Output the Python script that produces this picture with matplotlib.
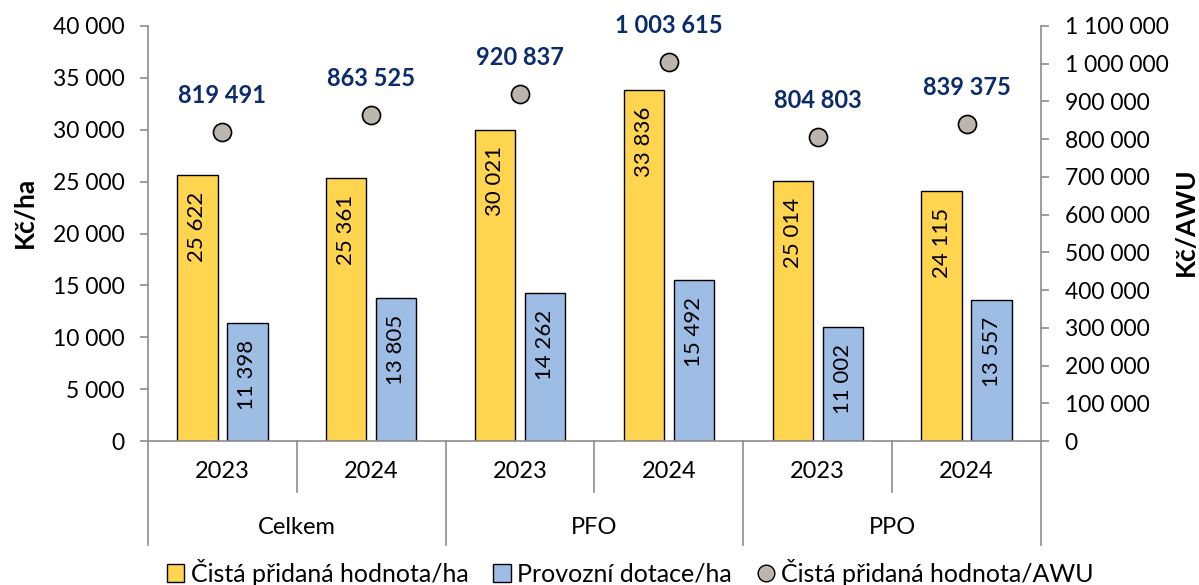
import matplotlib
matplotlib.use("Agg")
import matplotlib.pyplot as plt
from matplotlib.ticker import FuncFormatter, MultipleLocator
import matplotlib.transforms as mtransforms
from matplotlib.lines import Line2D
from matplotlib.patches import Patch

plt.rcParams['font.family'] = ['Lato', 'DejaVu Sans']

groups = ["Celkem", "PFO", "PPO"]
years = ["2023", "2024", "2023", "2024", "2023", "2024"]
cpp_ha = [25622, 25361, 30021, 33836, 25014, 24115]
dotace_ha = [11398, 13805, 14262, 15492, 11002, 13557]
cpp_awu = [819491, 863525, 920837, 1003615, 804803, 839375]

c_yellow = "#FFD44F"
c_blue = "#9DBDE5"
c_grey = "#BCB5AE"
c_navy = "#0B2C6B"
c_axis = "#8C8C8C"

def fmt(v, pos=None):
    return f"{int(round(v)):,}".replace(",", " ")

fig = plt.figure(figsize=(11.99, 5.85), dpi=100)
ax = fig.add_axes([148/1199, 1-441/585, (1041-148)/1199, (441-26)/585])
ax2 = ax.twinx()

x = list(range(len(years)))
w = 0.27
off = 0.168
ax.bar([i - off for i in x], cpp_ha, width=w, color=c_yellow, edgecolor="black", linewidth=1, zorder=2)
ax.bar([i + off for i in x], dotace_ha, width=w, color=c_blue, edgecolor="black", linewidth=1, zorder=2)

for i, v in enumerate(cpp_ha):
    ax.annotate(fmt(v), (i - off, v), xytext=(0, -12), textcoords="offset points",
                rotation=90, ha="center", va="top", fontsize=16, color="black")
for i, v in enumerate(dotace_ha):
    ax.annotate(fmt(v), (i + off, v), xytext=(0, -12), textcoords="offset points",
                rotation=90, ha="center", va="top", fontsize=16, color="black")

ax2.plot(x, cpp_awu, linestyle="none", marker="o", markersize=13,
         markerfacecolor=c_grey, markeredgecolor="black", markeredgewidth=1.2, zorder=3)
for i, v in enumerate(cpp_awu):
    ax2.annotate(fmt(v), (i, v), xytext=(0, 18), textcoords="offset points",
                 ha="center", va="bottom", fontsize=17, fontweight="bold", color=c_navy)

ax.set_xlim(-0.5, len(years) - 0.5)
ax.set_ylim(0, 40000)
ax2.set_ylim(0, 1100000)
ax.yaxis.set_major_locator(MultipleLocator(5000))
ax2.yaxis.set_major_locator(MultipleLocator(100000))
ax.yaxis.set_major_formatter(FuncFormatter(fmt))
ax2.yaxis.set_major_formatter(FuncFormatter(fmt))

for a in (ax, ax2):
    a.spines["top"].set_visible(False)
    a.tick_params(axis="y", labelsize=16.5, length=6, color=c_axis, width=1.2, pad=11)
ax.spines["right"].set_visible(False)
ax2.spines["left"].set_visible(False)
ax.spines["left"].set_color(c_axis)
ax2.spines["right"].set_color(c_axis)
ax2.spines["bottom"].set_visible(False)
ax.spines["bottom"].set_color(c_axis)
for a in (ax, ax2):
    a.spines["left"].set_linewidth(1.2)
    a.spines["right"].set_linewidth(1.2)
ax.spines["bottom"].set_linewidth(1.2)

ax.set_xticks([])
ax.set_ylabel("Kč/ha", fontsize=19, fontweight="bold", va="center", ha="center")
ax2.set_ylabel("Kč/AWU", fontsize=19, fontweight="bold", rotation=90, va="center", ha="center")
ax.yaxis.set_label_coords((25 - 148) / 893, (441 - 212) / 415)
ax2.yaxis.set_label_coords((1186 - 148) / 893, (441 - 222) / 415)

# categorical axis
trans = mtransforms.blended_transform_factory(ax.transData, ax.transAxes)
ax_h = (441 - 26)
def yfrac(py):
    return (441 - py) / ax_h

for i, y in enumerate(years):
    ax.text(i, yfrac(472), y, transform=trans, ha="center", va="center", fontsize=17)
for g, name in enumerate(groups):
    ax.text(2 * g + 0.5, yfrac(527), name, transform=trans, ha="center", va="center", fontsize=17)
for k in range(len(years) + 1):
    xb = k - 0.5
    y_end = yfrac(545) if k % 2 == 0 else yfrac(492)
    ax.add_line(Line2D([xb, xb], [0, y_end], transform=trans, color=c_axis, lw=1.2, clip_on=False))

handles = [Patch(facecolor=c_yellow, edgecolor="black", label="Čistá přidaná hodnota/ha"),
           Patch(facecolor=c_blue, edgecolor="black", label="Provozní dotace/ha"),
           Line2D([], [], linestyle="none", marker="o", markersize=12, markerfacecolor=c_grey,
                  markeredgecolor="black", label="Čistá přidaná hodnota/AWU")]
fig.legend(handles=handles, loc="center", bbox_to_anchor=(630/1199, 1 - 572/585), ncol=3, frameon=False,
           fontsize=18, handlelength=0.7, handleheight=0.7, handletextpad=0.25, columnspacing=1.0,
           borderpad=0.1)

fig.savefig("out.png", dpi=100)
